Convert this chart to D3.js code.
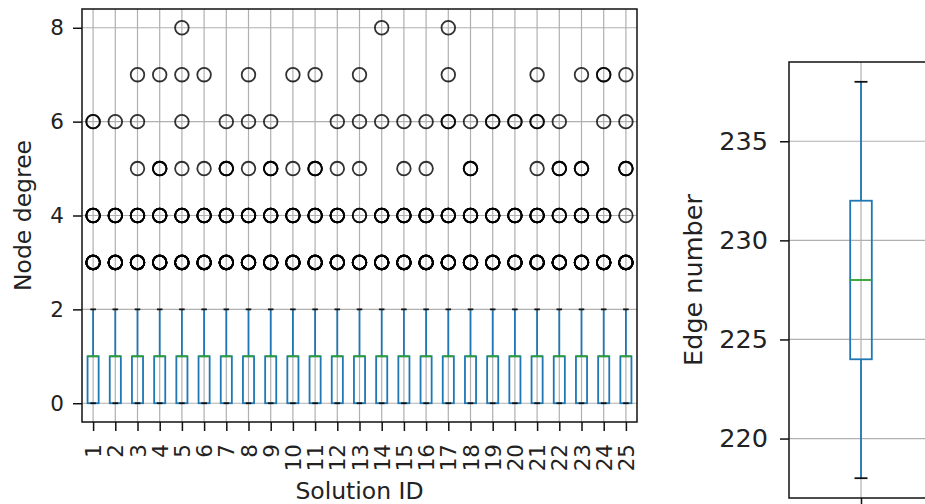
<!DOCTYPE html>
<html>
<head>
<meta charset="utf-8">
<script src="https://cdn.jsdelivr.net/npm/d3@7"></script>
<style>
  html, body { margin: 0; padding: 0; background: #fff; }
  svg { display: block; }
  text { font-family: "DejaVu Sans", sans-serif; fill: #222; }
</style>
</head>
<body>
<svg id="chart" width="925" height="504"></svg>
<script>
// ---------- data ----------
const solutionIds = ["1","2","3","4","5","6","7","8","9","10","11","12","13","14","15","16","17","18","19","20","21","22","23","24","25"];
// box statistics for node degree (identical for all solutions)
const degreeWhiskerLow  = [0,0,0,0,0,0,0,0,0,0,0,0,0,0,0,0,0,0,0,0,0,0,0,0,0];
const degreeQ1          = [0,0,0,0,0,0,0,0,0,0,0,0,0,0,0,0,0,0,0,0,0,0,0,0,0];
const degreeMedian      = [1,1,1,1,1,1,1,1,1,1,1,1,1,1,1,1,1,1,1,1,1,1,1,1,1];
const degreeQ3          = [1,1,1,1,1,1,1,1,1,1,1,1,1,1,1,1,1,1,1,1,1,1,1,1,1];
const degreeWhiskerHigh = [2,2,2,2,2,2,2,2,2,2,2,2,2,2,2,2,2,2,2,2,2,2,2,2,2];
// number of outlier nodes with a given degree, per solution
const outlierDegrees = [3, 4, 5, 6, 7, 8];
const outliersDeg3 = [8,8,8,8,8,8,8,8,8,8,8,8,8,8,8,8,8,8,8,8,8,8,8,8,8];
const outliersDeg4 = [5,5,5,5,5,5,5,5,5,5,5,5,2,5,5,5,5,5,5,5,5,3,5,3,1];
const outliersDeg5 = [0,0,1,3,1,1,3,1,3,1,3,1,1,0,1,1,0,3,0,0,1,3,3,0,3];
const outliersDeg6 = [2,1,1,0,1,0,1,1,1,0,0,1,1,1,1,1,2,1,2,2,2,1,0,1,1];
const outliersDeg7 = [0,0,1,1,1,1,0,1,0,1,1,0,1,0,0,0,1,0,0,0,1,0,1,2,1];
const outliersDeg8 = [0,0,0,0,1,0,0,0,0,0,0,0,0,1,0,0,1,0,0,0,0,0,0,0,0];

// edge number box
const edgeCategory = ["1"];
const edgeWhiskerLow = [218];
const edgeQ1 = [224];
const edgeMedian = [228];
const edgeQ3 = [232];
const edgeWhiskerHigh = [238];

const degreeTicks = [0, 2, 4, 6, 8];
const edgeTicks = [220, 225, 230, 235];

// ---------- drawing ----------
const svg = d3.select("#chart");
const BLUE = "#1f77b4", GREEN = "#2ca02c", GRID = "#b0b0b0";

const degreeBoxes = solutionIds.map((id, i) => ({
  id, lo: degreeWhiskerLow[i], q1: degreeQ1[i], med: degreeMedian[i], q3: degreeQ3[i], hi: degreeWhiskerHigh[i]
}));
const outlierCounts = [outliersDeg3, outliersDeg4, outliersDeg5, outliersDeg6, outliersDeg7, outliersDeg8];
const fliers = [];
outlierDegrees.forEach((deg, k) => {
  outlierCounts[k].forEach((n, i) => {
    for (let j = 0; j < n; j++) fliers.push({ id: solutionIds[i], v: deg });
  });
});

function drawPanel(g, cfg) {
  const { x, y, boxes, fliers, yTicks, boxW, capW, tickFont, labelFont, yLabel, yLabelX, xLabel, rotateX, tickLabelPad } = cfg;
  const [x0, x1] = x.range();
  const [yb, yt] = y.range();
  const clipId = cfg.clipId;
  g.append("clipPath").attr("id", clipId).append("rect")
    .attr("x", x0).attr("y", yt).attr("width", x1 - x0).attr("height", yb - yt);
  const plot = g.append("g").attr("clip-path", `url(#${clipId})`);

  // grid
  plot.selectAll(".hgrid").data(yTicks).join("line")
    .attr("x1", x0).attr("x2", x1)
    .attr("y1", d => y(d)).attr("y2", d => y(d))
    .attr("stroke", GRID).attr("stroke-width", 1.2);
  plot.selectAll(".vgrid").data(boxes).join("line")
    .attr("x1", d => x(d.pos)).attr("x2", d => x(d.pos))
    .attr("y1", yt).attr("y2", yb)
    .attr("stroke", GRID).attr("stroke-width", 1.2);

  const bw = x(boxW) - x(0), cw = x(capW) - x(0);
  const bg = plot.selectAll(".box").data(boxes).join("g");
  // whiskers
  bg.append("line").attr("x1", d => x(d.pos)).attr("x2", d => x(d.pos))
    .attr("y1", d => y(d.q3)).attr("y2", d => y(d.hi)).attr("stroke", BLUE).attr("stroke-width", 1.8);
  bg.append("line").attr("x1", d => x(d.pos)).attr("x2", d => x(d.pos))
    .attr("y1", d => y(d.q1)).attr("y2", d => y(d.lo)).attr("stroke", BLUE).attr("stroke-width", 1.8);
  // box
  bg.append("rect").attr("x", d => x(d.pos) - bw / 2).attr("width", bw)
    .attr("y", d => y(d.q3)).attr("height", d => y(d.q1) - y(d.q3))
    .attr("fill", "none").attr("stroke", BLUE).attr("stroke-width", 1.8);
  // caps
  bg.append("line").attr("x1", d => x(d.pos) - cw / 2).attr("x2", d => x(d.pos) + cw / 2)
    .attr("y1", d => y(d.hi)).attr("y2", d => y(d.hi)).attr("stroke", "#111").attr("stroke-width", 1.8);
  bg.append("line").attr("x1", d => x(d.pos) - cw / 2).attr("x2", d => x(d.pos) + cw / 2)
    .attr("y1", d => y(d.lo)).attr("y2", d => y(d.lo)).attr("stroke", "#111").attr("stroke-width", 1.8);
  // median
  bg.append("line").attr("x1", d => x(d.pos) - bw / 2).attr("x2", d => x(d.pos) + bw / 2)
    .attr("y1", d => y(d.med)).attr("y2", d => y(d.med)).attr("stroke", GREEN).attr("stroke-width", 1.8);

  // fliers
  plot.selectAll(".flier").data(fliers).join("circle")
    .attr("cx", d => x(d.pos)).attr("cy", d => y(d.v)).attr("r", cfg.flierR)
    .attr("fill", "none").attr("stroke", "#000").attr("stroke-width", 1.8).attr("stroke-opacity", 0.8);

  // frame
  g.append("rect").attr("x", x0).attr("y", yt).attr("width", x1 - x0).attr("height", yb - yt)
    .attr("fill", "none").attr("stroke", "#111").attr("stroke-width", 1.5);

  // y axis
  const yAxis = d3.axisLeft(y).tickValues(yTicks).tickSize(cfg.tickLen).tickPadding(cfg.yPad);
  const ya = g.append("g").attr("transform", `translate(${x0},0)`).call(yAxis);
  ya.select(".domain").remove();
  ya.selectAll("line").attr("stroke", "#111").attr("stroke-width", 1.5);
  ya.selectAll("text").style("font-size", tickFont + "px").attr("fill", "#222");

  // x axis
  const xAxis = d3.axisBottom(x).tickValues(boxes.map(d => d.pos))
    .tickFormat((d, i) => cfg.showXLabels ? boxes[i].id : "")
    .tickSize(cfg.tickLen).tickPadding(4);
  const xa = g.append("g").attr("transform", `translate(0,${yb})`).call(xAxis);
  xa.select(".domain").remove();
  xa.selectAll("line").attr("stroke", "#111").attr("stroke-width", 1.5);
  if (!cfg.showXLabels) {
    xa.selectAll("text").remove();
  } else if (rotateX) {
    xa.selectAll("text").style("font-size", tickFont + "px")
      .attr("transform", `rotate(-90)`)
      .attr("text-anchor", "end")
      .attr("x", -tickLabelPad).attr("y", 0).attr("dy", "0.35em");
  }

  // labels
  g.append("text").attr("transform", `translate(${yLabelX},${(yt + yb) / 2}) rotate(-90)`)
    .attr("text-anchor", "middle").attr("dy", "0.35em").style("font-size", labelFont + "px").text(yLabel);
  if (xLabel) {
    g.append("text").attr("x", (x0 + x1) / 2).attr("y", cfg.xLabelY)
      .attr("text-anchor", "middle").style("font-size", labelFont + "px").text(xLabel);
  }
}

// left panel: node degree per solution
const xL = d3.scaleLinear().domain([0.5, solutionIds.length + 0.5]).range([82, 637]);
const yL = d3.scaleLinear().domain([-0.4, 8.4]).range([422, 9]);
const posOf = {};
solutionIds.forEach((id, i) => posOf[id] = i + 1);
drawPanel(svg.append("g"), {
  clipId: "clipL", x: xL, y: yL,
  boxes: degreeBoxes.map(d => ({ ...d, pos: posOf[d.id] })),
  fliers: fliers.map(d => ({ ...d, pos: posOf[d.id] })),
  yTicks: degreeTicks, boxW: 0.5, capW: 0.25, flierR: 6.8,
  tickLen: 9, yPad: 9,
  tickFont: 21.5, labelFont: 23.5, yLabel: "Node degree", yLabelX: 23,
  xLabel: "Solution ID", xLabelY: 499, rotateX: true, tickLabelPad: 22, showXLabels: true
});

// right panel: edge number
const xR = d3.scaleLinear().domain([0.5, 1.5]).range([789, 933]);
const yR = d3.scaleLinear().domain([217, 239]).range([498, 62]);
drawPanel(svg.append("g"), {
  clipId: "clipR", x: xR, y: yR,
  boxes: edgeCategory.map((id, i) => ({ id, pos: i + 1, lo: edgeWhiskerLow[i], q1: edgeQ1[i], med: edgeMedian[i], q3: edgeQ3[i], hi: edgeWhiskerHigh[i] })),
  fliers: [],
  yTicks: edgeTicks, boxW: 0.15, capW: 0.09, flierR: 6,
  tickLen: 9, yPad: 12,
  tickFont: 25.5, labelFont: 25.5, yLabel: "Edge number", yLabelX: 693,
  xLabel: null, rotateX: false, tickLabelPad: 0, showXLabels: false
});
</script>
</body>
</html>
